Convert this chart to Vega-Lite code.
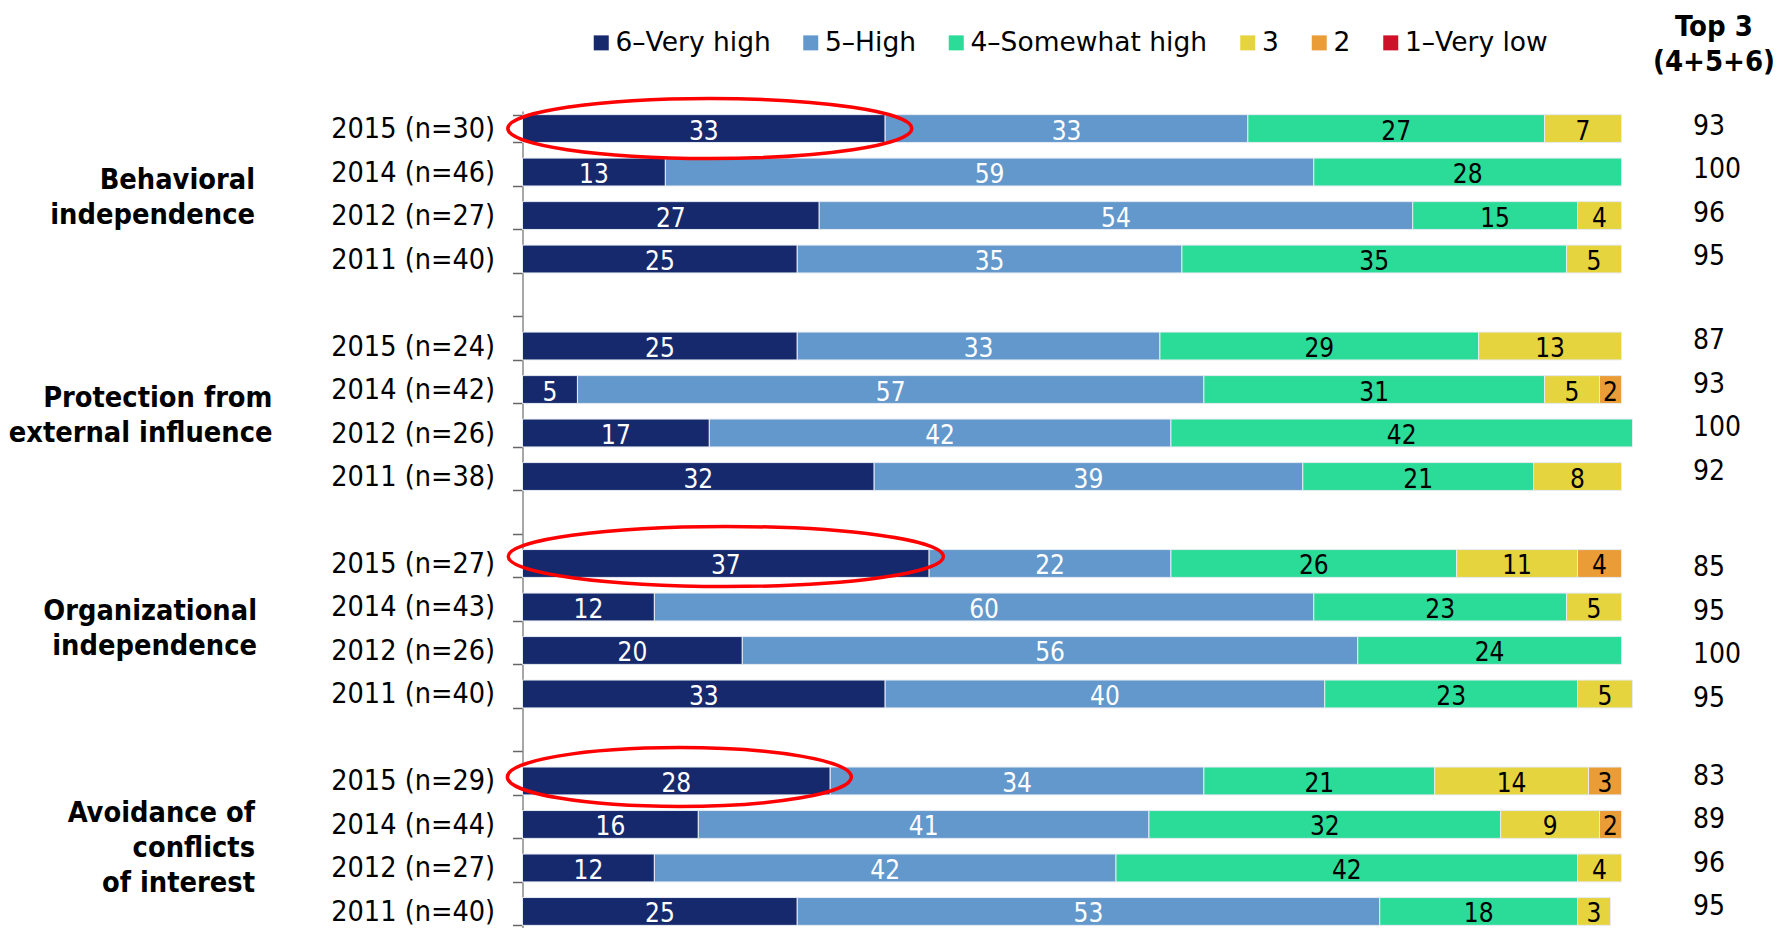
{
  "$schema": "https://vega.github.io/schema/vega-lite/v6.json",
  "padding": {"left": 8.5, "top": 12, "right": 5, "bottom": 0},
  "autosize": {"type": "pad"},
  "config": {"view": {"stroke": null}, "font": "DejaVu Sans Condensed"},
  "datasets": {
    "bars": [
      {"r": "B|2015 (n=30)|93", "c": "6–Very high", "v": 33},
      {"r": "B|2015 (n=30)|93", "c": "5–High", "v": 33},
      {"r": "B|2015 (n=30)|93", "c": "4–Somewhat high", "v": 27},
      {"r": "B|2015 (n=30)|93", "c": "3", "v": 7},
      {"r": "B|2014 (n=46)|100", "c": "6–Very high", "v": 13},
      {"r": "B|2014 (n=46)|100", "c": "5–High", "v": 59},
      {"r": "B|2014 (n=46)|100", "c": "4–Somewhat high", "v": 28},
      {"r": "B|2012 (n=27)|96", "c": "6–Very high", "v": 27},
      {"r": "B|2012 (n=27)|96", "c": "5–High", "v": 54},
      {"r": "B|2012 (n=27)|96", "c": "4–Somewhat high", "v": 15},
      {"r": "B|2012 (n=27)|96", "c": "3", "v": 4},
      {"r": "B|2011 (n=40)|95", "c": "6–Very high", "v": 25},
      {"r": "B|2011 (n=40)|95", "c": "5–High", "v": 35},
      {"r": "B|2011 (n=40)|95", "c": "4–Somewhat high", "v": 35},
      {"r": "B|2011 (n=40)|95", "c": "3", "v": 5},
      {"r": "P|2015 (n=24)|87", "c": "6–Very high", "v": 25},
      {"r": "P|2015 (n=24)|87", "c": "5–High", "v": 33},
      {"r": "P|2015 (n=24)|87", "c": "4–Somewhat high", "v": 29},
      {"r": "P|2015 (n=24)|87", "c": "3", "v": 13},
      {"r": "P|2014 (n=42)|93", "c": "6–Very high", "v": 5},
      {"r": "P|2014 (n=42)|93", "c": "5–High", "v": 57},
      {"r": "P|2014 (n=42)|93", "c": "4–Somewhat high", "v": 31},
      {"r": "P|2014 (n=42)|93", "c": "3", "v": 5},
      {"r": "P|2014 (n=42)|93", "c": "2", "v": 2},
      {"r": "P|2012 (n=26)|100", "c": "6–Very high", "v": 17},
      {"r": "P|2012 (n=26)|100", "c": "5–High", "v": 42},
      {"r": "P|2012 (n=26)|100", "c": "4–Somewhat high", "v": 42},
      {"r": "P|2011 (n=38)|92", "c": "6–Very high", "v": 32},
      {"r": "P|2011 (n=38)|92", "c": "5–High", "v": 39},
      {"r": "P|2011 (n=38)|92", "c": "4–Somewhat high", "v": 21},
      {"r": "P|2011 (n=38)|92", "c": "3", "v": 8},
      {"r": "O|2015 (n=27)|85", "c": "6–Very high", "v": 37},
      {"r": "O|2015 (n=27)|85", "c": "5–High", "v": 22},
      {"r": "O|2015 (n=27)|85", "c": "4–Somewhat high", "v": 26},
      {"r": "O|2015 (n=27)|85", "c": "3", "v": 11},
      {"r": "O|2015 (n=27)|85", "c": "2", "v": 4},
      {"r": "O|2014 (n=43)|95", "c": "6–Very high", "v": 12},
      {"r": "O|2014 (n=43)|95", "c": "5–High", "v": 60},
      {"r": "O|2014 (n=43)|95", "c": "4–Somewhat high", "v": 23},
      {"r": "O|2014 (n=43)|95", "c": "3", "v": 5},
      {"r": "O|2012 (n=26)|100", "c": "6–Very high", "v": 20},
      {"r": "O|2012 (n=26)|100", "c": "5–High", "v": 56},
      {"r": "O|2012 (n=26)|100", "c": "4–Somewhat high", "v": 24},
      {"r": "O|2011 (n=40)|95", "c": "6–Very high", "v": 33},
      {"r": "O|2011 (n=40)|95", "c": "5–High", "v": 40},
      {"r": "O|2011 (n=40)|95", "c": "4–Somewhat high", "v": 23},
      {"r": "O|2011 (n=40)|95", "c": "3", "v": 5},
      {"r": "A|2015 (n=29)|83", "c": "6–Very high", "v": 28},
      {"r": "A|2015 (n=29)|83", "c": "5–High", "v": 34},
      {"r": "A|2015 (n=29)|83", "c": "4–Somewhat high", "v": 21},
      {"r": "A|2015 (n=29)|83", "c": "3", "v": 14},
      {"r": "A|2015 (n=29)|83", "c": "2", "v": 3},
      {"r": "A|2014 (n=44)|89", "c": "6–Very high", "v": 16},
      {"r": "A|2014 (n=44)|89", "c": "5–High", "v": 41},
      {"r": "A|2014 (n=44)|89", "c": "4–Somewhat high", "v": 32},
      {"r": "A|2014 (n=44)|89", "c": "3", "v": 9},
      {"r": "A|2014 (n=44)|89", "c": "2", "v": 2},
      {"r": "A|2012 (n=27)|96", "c": "6–Very high", "v": 12},
      {"r": "A|2012 (n=27)|96", "c": "5–High", "v": 42},
      {"r": "A|2012 (n=27)|96", "c": "4–Somewhat high", "v": 42},
      {"r": "A|2012 (n=27)|96", "c": "3", "v": 4},
      {"r": "A|2011 (n=40)|95", "c": "6–Very high", "v": 25},
      {"r": "A|2011 (n=40)|95", "c": "5–High", "v": 53},
      {"r": "A|2011 (n=40)|95", "c": "4–Somewhat high", "v": 18},
      {"r": "A|2011 (n=40)|95", "c": "3", "v": 3}
    ],
    "groups": [
      {"g": "B", "label": "Behavioral\nindependence", "r": "B|2014 (n=46)|100"},
      {"g": "P", "label": "Protection from\nexternal influence", "r": "P|2014 (n=42)|93"},
      {"g": "O", "label": "Organizational\nindependence", "r": "O|2014 (n=43)|95"},
      {"g": "A", "label": "Avoidance of\nconflicts\nof interest", "r": "A|2014 (n=44)|89"}
    ]
  },
  "spacing": 58,
  "resolve": {"legend": {"color": "independent"}},
  "hconcat": [
    {
      "width": 1,
      "height": 818,
      "data": {"name": "groups"},
      "encoding": {
        "y": {"field": "r", "type": "nominal", "axis": null, "sort": null,
          "scale": {"type": "band", "domain": ["B|2015 (n=30)|93", "B|2014 (n=46)|100", "B|2012 (n=27)|96", "B|2011 (n=40)|95", "g1||", "P|2015 (n=24)|87", "P|2014 (n=42)|93", "P|2012 (n=26)|100", "P|2011 (n=38)|92", "g2||", "O|2015 (n=27)|85", "O|2014 (n=43)|95", "O|2012 (n=26)|100", "O|2011 (n=40)|95", "g3||", "A|2015 (n=29)|83", "A|2014 (n=44)|89", "A|2012 (n=27)|96", "A|2011 (n=40)|95"], "paddingInner": 0.36, "paddingOuter": 0.0834}},
        "text": {"field": "label"}
      },
      "layer": [
        {
          "transform": [{"filter": "datum.g == 'B'"}],
          "mark": {"type": "text", "align": "right", "baseline": "middle", "dy": 8, "lineBreak": "\n", "lineHeight": 35, "font": "DejaVu Sans Condensed", "fontWeight": "bold", "fontSize": 28.7, "color": "#000000"}
        },
        {
          "transform": [{"filter": "datum.g == 'P'"}],
          "mark": {"type": "text", "align": "right", "baseline": "middle", "dx": 17.5, "dy": 8, "lineBreak": "\n", "lineHeight": 35, "font": "DejaVu Sans Condensed", "fontWeight": "bold", "fontSize": 28.7, "color": "#000000"}
        },
        {
          "transform": [{"filter": "datum.g == 'O'"}],
          "mark": {"type": "text", "align": "right", "baseline": "middle", "dx": 2, "dy": 4, "lineBreak": "\n", "lineHeight": 35, "font": "DejaVu Sans Condensed", "fontWeight": "bold", "fontSize": 28.7, "color": "#000000"}
        },
        {
          "transform": [{"filter": "datum.g == 'A'"}],
          "mark": {"type": "text", "align": "right", "baseline": "middle", "dy": -11, "lineBreak": "\n", "lineHeight": 35, "font": "DejaVu Sans Condensed", "fontWeight": "bold", "fontSize": 28.7, "color": "#000000"}
        }
      ]
    },
    {
      "width": 1099,
      "height": 818,
      "data": {"name": "bars"},
      "resolve": {"axis": {"y": "independent"}},
      "layer": [
        {
          "mark": {"type": "bar", "stroke": "#e6ebf3", "strokeWidth": 1},
          "encoding": {
            "y": {"field": "r", "type": "nominal", "sort": null,
              "scale": {"type": "band", "domain": ["B|2015 (n=30)|93", "B|2014 (n=46)|100", "B|2012 (n=27)|96", "B|2011 (n=40)|95", "g1||", "P|2015 (n=24)|87", "P|2014 (n=42)|93", "P|2012 (n=26)|100", "P|2011 (n=38)|92", "g2||", "O|2015 (n=27)|85", "O|2014 (n=43)|95", "O|2012 (n=26)|100", "O|2011 (n=40)|95", "g3||", "A|2015 (n=29)|83", "A|2014 (n=44)|89", "A|2012 (n=27)|96", "A|2011 (n=40)|95"], "paddingInner": 0.36, "paddingOuter": 0.0834},
              "axis": {"orient": "left", "title": null, "labelExpr": "split(datum.value, '|')[1]", "tickBand": "extent", "tickSize": 10, "tickColor": "#666666", "tickWidth": 1.5, "domainColor": "#8a8a8a", "domainWidth": 1.5, "labelPadding": 18, "labelFont": "DejaVu Sans Condensed", "labelFontSize": 28.5, "labelColor": "#000000", "labelOverlap": false, "labelLimit": 400, "grid": false}},
            "x": {"field": "v", "type": "quantitative", "stack": "zero", "axis": null, "scale": {"domain": [0, 100], "nice": false}},
            "color": {"field": "c", "type": "nominal",
              "scale": {"domain": ["6–Very high", "5–High", "4–Somewhat high", "3", "2", "1–Very low"], "range": ["#16296C", "#6398CC", "#2BDB98", "#E5D43E", "#EA9C36", "#CC1128"]},
              "legend": {"title": null, "orient": "none", "legendX": 65.5, "legendY": -81.5, "direction": "horizontal", "symbolType": "square", "symbolSize": 225, "symbolStrokeWidth": 0, "labelFont": "DejaVu Sans", "labelFontSize": 26.5, "labelColor": "#000000", "labelOffset": 1, "columnPadding": 26.5, "padding": 0, "labelLimit": 400}},
            "order": {"field": "c", "sort": "descending"}
          }
        },
        {
          "mark": {"type": "text", "baseline": "middle", "dy": 3, "font": "DejaVu Sans Condensed", "fontSize": 26},
          "encoding": {
            "y": {"field": "r", "type": "nominal", "sort": null,
              "scale": {"type": "band", "domain": ["B|2015 (n=30)|93", "B|2014 (n=46)|100", "B|2012 (n=27)|96", "B|2011 (n=40)|95", "g1||", "P|2015 (n=24)|87", "P|2014 (n=42)|93", "P|2012 (n=26)|100", "P|2011 (n=38)|92", "g2||", "O|2015 (n=27)|85", "O|2014 (n=43)|95", "O|2012 (n=26)|100", "O|2011 (n=40)|95", "g3||", "A|2015 (n=29)|83", "A|2014 (n=44)|89", "A|2012 (n=27)|96", "A|2011 (n=40)|95"], "paddingInner": 0.36, "paddingOuter": 0.0834},
              "axis": {"orient": "right", "title": ["Top 3", "(4+5+6)"], "titleAngle": 0, "titleAlign": "center", "titleBaseline": "top", "titleX": 92, "titleY": -99, "titleFont": "DejaVu Sans Condensed", "titleFontSize": 29, "titleFontWeight": "bold", "titleLineHeight": 35, "titleColor": "#000000", "labelExpr": "split(datum.value, '|')[2]", "domain": false, "ticks": false, "tickSize": 0, "labelPadding": 71, "labelFont": "DejaVu Sans Condensed", "labelFontSize": 28, "labelAlign": "left",
                "labelOffset": {"condition": [{"test": "indexof(datum.value, 'O|') == 0", "value": 5}, {"test": "indexof(datum.value, 'P|') == 0", "value": -5}, {"test": "indexof(datum.value, 'B|') == 0", "value": -2}], "value": -4},
                "labelColor": "#000000", "labelOverlap": false, "grid": false}},
            "x": {"field": "v", "type": "quantitative", "stack": "zero", "bandPosition": 0.5, "axis": null, "scale": {"domain": [0, 100], "nice": false}},
            "detail": {"field": "c", "type": "nominal"},
            "order": {"field": "c", "sort": "descending"},
            "text": {"field": "v", "type": "quantitative"},
            "color": {"condition": {"test": "datum.c == '6–Very high' || datum.c == '5–High'", "value": "#FFFFFF"}, "value": "#000000"}
          }
        },
        {
          "transform": [{"filter": "datum.r == 'B|2015 (n=30)|93' && datum.c == '6–Very high'"}],
          "mark": {"type": "point", "shape": "M -1 0 A 1 0.1485 0 1 1 1 0 A 1 0.1485 0 1 1 -1 0 Z", "size": 163216, "filled": false, "color": "#FF0000", "strokeWidth": 3.5, "opacity": 1, "xOffset": 6},
          "encoding": {
            "y": {"field": "r", "type": "nominal", "sort": null, "axis": null,
              "scale": {"type": "band", "domain": ["B|2015 (n=30)|93", "B|2014 (n=46)|100", "B|2012 (n=27)|96", "B|2011 (n=40)|95", "g1||", "P|2015 (n=24)|87", "P|2014 (n=42)|93", "P|2012 (n=26)|100", "P|2011 (n=38)|92", "g2||", "O|2015 (n=27)|85", "O|2014 (n=43)|95", "O|2012 (n=26)|100", "O|2011 (n=40)|95", "g3||", "A|2015 (n=29)|83", "A|2014 (n=44)|89", "A|2012 (n=27)|96", "A|2011 (n=40)|95"], "paddingInner": 0.36, "paddingOuter": 0.0834}},
            "x": {"field": "v", "type": "quantitative", "stack": "zero", "bandPosition": 0.5, "axis": null, "scale": {"domain": [0, 100], "nice": false}}
          }
        },
        {
          "transform": [{"filter": "datum.r == 'O|2015 (n=27)|85' && datum.c == '6–Very high'"}],
          "mark": {"type": "point", "shape": "M -1 0 A 1 0.138 0 1 1 1 0 A 1 0.138 0 1 1 -1 0 Z", "size": 189225, "filled": false, "color": "#FF0000", "strokeWidth": 3.5, "opacity": 1, "yOffset": -7},
          "encoding": {
            "y": {"field": "r", "type": "nominal", "sort": null, "axis": null,
              "scale": {"type": "band", "domain": ["B|2015 (n=30)|93", "B|2014 (n=46)|100", "B|2012 (n=27)|96", "B|2011 (n=40)|95", "g1||", "P|2015 (n=24)|87", "P|2014 (n=42)|93", "P|2012 (n=26)|100", "P|2011 (n=38)|92", "g2||", "O|2015 (n=27)|85", "O|2014 (n=43)|95", "O|2012 (n=26)|100", "O|2011 (n=40)|95", "g3||", "A|2015 (n=29)|83", "A|2014 (n=44)|89", "A|2012 (n=27)|96", "A|2011 (n=40)|95"], "paddingInner": 0.36, "paddingOuter": 0.0834}},
            "x": {"field": "v", "type": "quantitative", "stack": "zero", "bandPosition": 0.5, "axis": null, "scale": {"domain": [0, 100], "nice": false}}
          }
        },
        {
          "transform": [{"filter": "datum.r == 'A|2015 (n=29)|83' && datum.c == '6–Very high'"}],
          "mark": {"type": "point", "shape": "M -1 0 A 1 0.1715 0 1 1 1 0 A 1 0.1715 0 1 1 -1 0 Z", "size": 118336, "filled": false, "color": "#FF0000", "strokeWidth": 3.5, "opacity": 1, "xOffset": 3, "yOffset": -4},
          "encoding": {
            "y": {"field": "r", "type": "nominal", "sort": null, "axis": null,
              "scale": {"type": "band", "domain": ["B|2015 (n=30)|93", "B|2014 (n=46)|100", "B|2012 (n=27)|96", "B|2011 (n=40)|95", "g1||", "P|2015 (n=24)|87", "P|2014 (n=42)|93", "P|2012 (n=26)|100", "P|2011 (n=38)|92", "g2||", "O|2015 (n=27)|85", "O|2014 (n=43)|95", "O|2012 (n=26)|100", "O|2011 (n=40)|95", "g3||", "A|2015 (n=29)|83", "A|2014 (n=44)|89", "A|2012 (n=27)|96", "A|2011 (n=40)|95"], "paddingInner": 0.36, "paddingOuter": 0.0834}},
            "x": {"field": "v", "type": "quantitative", "stack": "zero", "bandPosition": 0.5, "axis": null, "scale": {"domain": [0, 100], "nice": false}}
          }
        }
      ]
    }
  ]
}
